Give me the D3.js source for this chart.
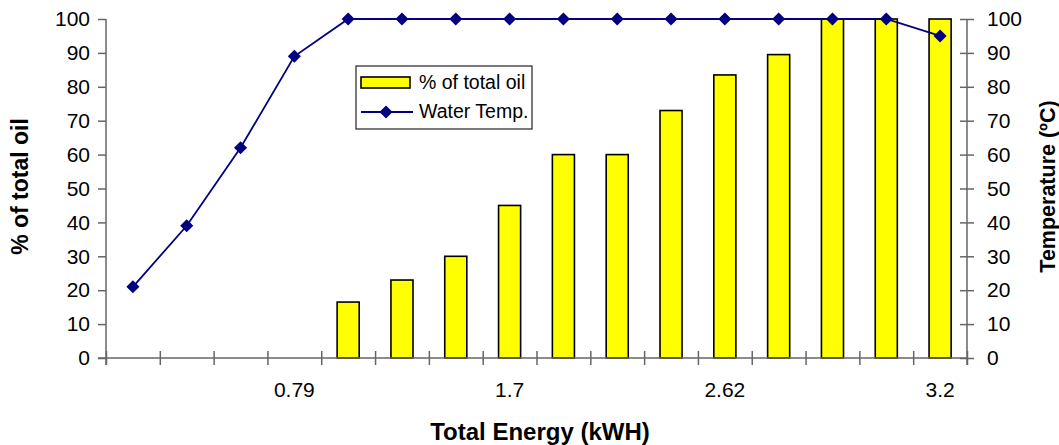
<!DOCTYPE html>
<html>
<head>
<meta charset="utf-8">
<script src="https://cdn.jsdelivr.net/npm/d3@7"></script>
<style>
  body { margin: 0; background: #fff; }
  text { font-family: "Liberation Sans", Arial, sans-serif; }
</style>
</head>
<body>
<script>
var width = 1059, height = 445
var margin = {left: 106, right: 92, top: 19, bottom: 87}
var w = width - margin.left - margin.right, h = height - margin.top - margin.bottom

// data
var categories = ["", "", "", "0.79", "", "", "", "1.7", "", "", "", "2.62", "", "", "", "3.2"]
var oilPct = [null, null, null, null, 16.5, 23, 30, 45, 60, 60, 73, 83.5, 89.5, 100, 100, 100]
var waterTemp = [21, 39, 62, 89, 100, 100, 100, 100, 100, 100, 100, 100, 100, 100, 100, 95]
var yTicks = [0, 10, 20, 30, 40, 50, 60, 70, 80, 90, 100]

var svg = d3.select("body").append("svg")
    .attr("width", width).attr("height", height)
var g = svg.append("g")
    .attr("transform", "translate(" + margin.left + "," + margin.top + ")")

var idx = d3.range(categories.length)
var xBand = d3.scaleBand().domain(idx).range([0, w])
var xLin = d3.scaleLinear().domain([0, categories.length]).range([0, w])
var yL = d3.scaleLinear().domain([0, 100]).range([h, 0])
var yR = d3.scaleLinear().domain([0, 100]).range([h, 0])

var axisColor = "#666"

// bars
var bw = xBand.bandwidth() * 0.41
g.append("g").selectAll("rect")
    .data(idx.filter(i => oilPct[i] != null))
    .enter().append("rect")
    .attr("x", i => xBand(i) + (xBand.bandwidth() - bw) / 2)
    .attr("y", i => yL(oilPct[i]))
    .attr("width", bw)
    .attr("height", i => h - yL(oilPct[i]))
    .attr("fill", "#ffff00")
    .attr("stroke", "#000")
    .attr("stroke-width", 1.6)

// left axis
var left = g.append("g").call(d3.axisLeft(yL).tickValues(yTicks).tickSize(8).tickPadding(8))
left.select(".domain").attr("stroke", axisColor).attr("stroke-width", 1.5)
    .attr("d", "M0,0V" + (h + 7))
left.selectAll(".tick line").attr("stroke", axisColor).attr("stroke-width", 1.5)
left.selectAll("text").attr("font-size", 21).attr("fill", "#000")

// right axis
var right = g.append("g").attr("transform", "translate(" + w + ",0)")
    .call(d3.axisRight(yR).tickValues(yTicks).tickSize(7).tickPadding(13))
right.select(".domain").attr("stroke", axisColor).attr("stroke-width", 1.5)
    .attr("d", "M0,0V" + (h + 7))
right.selectAll(".tick line").attr("stroke", axisColor).attr("stroke-width", 1.5).attr("x1", -7)
right.selectAll("text").attr("font-size", 21).attr("fill", "#000")

// x axis: ticks between categories
var xAx = g.append("g").attr("transform", "translate(0," + h + ")")
    .call(d3.axisBottom(xLin).tickValues(d3.range(0, categories.length + 1)).tickFormat("").tickSize(7))
xAx.select(".domain").attr("stroke", axisColor).attr("stroke-width", 1.5).attr("d", "M-8,0H" + w)
xAx.selectAll(".tick line").attr("stroke", axisColor).attr("stroke-width", 1.5).attr("y1", -7)

var xLab = g.append("g").attr("transform", "translate(0," + h + ")")
    .call(d3.axisBottom(xBand).tickSize(0).tickPadding(24).tickFormat(i => categories[i]))
xLab.select(".domain").remove()
xLab.selectAll("text").attr("font-size", 21).attr("fill", "#000")

// line + diamonds
var line = d3.line()
    .x((d, i) => xBand(i) + xBand.bandwidth() / 2)
    .y(d => yR(d))
g.append("path").datum(waterTemp)
    .attr("d", line)
    .attr("fill", "none")
    .attr("stroke", "#000080")
    .attr("stroke-width", 1.8)

var diamond = d3.symbol(d3.symbolSquare, 85)
g.append("g").selectAll("path")
    .data(waterTemp).enter().append("path")
    .attr("d", diamond)
    .attr("fill", "#000080")
    .attr("transform", (d, i) => "translate(" + (xBand(i) + xBand.bandwidth() / 2) + "," + yR(d) + ") rotate(45)")

// axis titles
svg.append("text")
    .attr("transform", "translate(28," + (margin.top + h / 2 - 2) + ") rotate(-90)")
    .attr("text-anchor", "middle")
    .attr("font-size", 23).attr("font-weight", "bold")
    .text("% of total oil")
svg.append("text")
    .attr("transform", "translate(1055," + (margin.top + h / 2 - 2) + ") rotate(-90)")
    .attr("text-anchor", "middle")
    .attr("font-size", 21.5).attr("font-weight", "bold")
    .text("Temperature (ºC)")
svg.append("text")
    .attr("x", 540).attr("y", 440)
    .attr("text-anchor", "middle")
    .attr("font-size", 24).attr("font-weight", "bold")
    .text("Total Energy (kWH)")

// legend
var lg = svg.append("g").attr("transform", "translate(356,66)")
lg.append("rect").attr("width", 176).attr("height", 63)
    .attr("fill", "#fff").attr("stroke", "#222").attr("stroke-width", 1.2)
lg.append("rect").attr("x", 5).attr("y", 11).attr("width", 49).attr("height", 11)
    .attr("fill", "#ffff00").attr("stroke", "#000").attr("stroke-width", 1.6)
lg.append("text").attr("x", 63).attr("y", 23).attr("font-size", 19.5).text("% of total oil")
lg.append("line").attr("x1", 5).attr("x2", 57).attr("y1", 46).attr("y2", 46)
    .attr("stroke", "#000080").attr("stroke-width", 1.8)
lg.append("path").attr("d", diamond).attr("fill", "#000080")
    .attr("transform", "translate(30,46) rotate(45)")
lg.append("text").attr("x", 63).attr("y", 52).attr("font-size", 19.5).text("Water Temp.")
</script>
</body>
</html>
